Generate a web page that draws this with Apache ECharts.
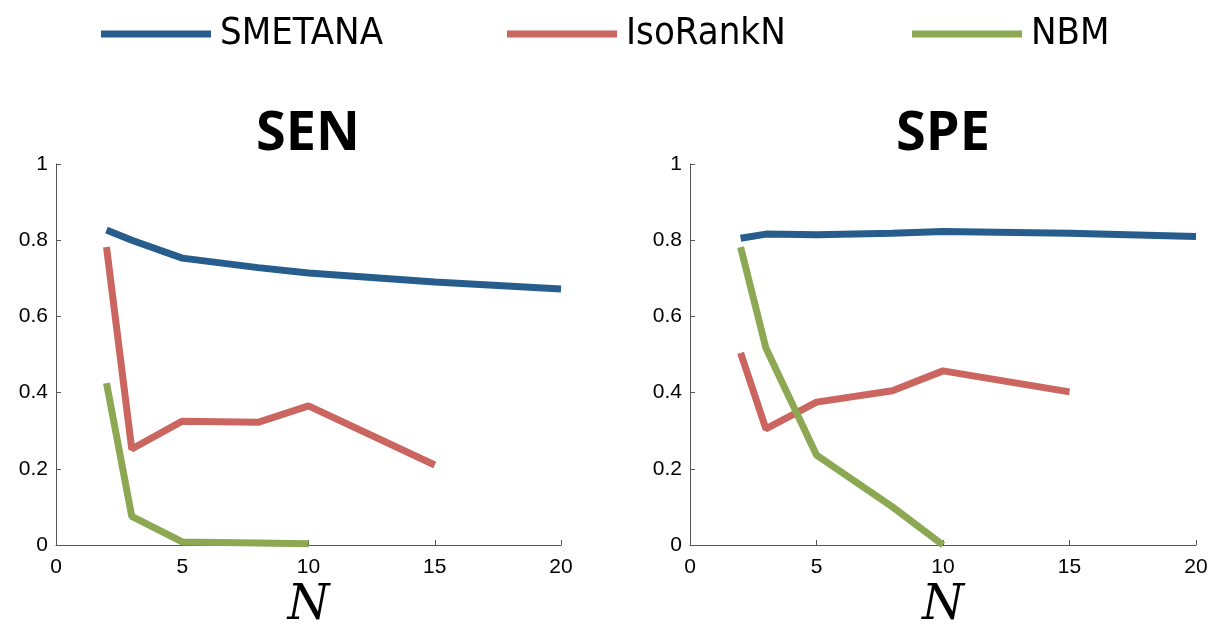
<!DOCTYPE html>
<html>
<head>
<meta charset="utf-8">
<script src="https://cdn.jsdelivr.net/npm/echarts@6/dist/echarts.min.js"></script>
<style>html,body{margin:0;padding:0;background:#fff;}#chart{width:1217px;height:625px;}</style>
</head>
<body>
<div id="chart"></div>
<script>
var seriesNames = ['SMETANA', 'IsoRankN', 'NBM'];
var panelTitles = ['SEN', 'SPE'];
var xLabelName = 'N';

// SEN panel
var senSMETANA = [[2, 0.827], [3, 0.800], [5, 0.753], [8, 0.728], [10, 0.714], [15, 0.690], [20, 0.672]];
var senIsoRankN = [[2, 0.782], [3, 0.252], [5, 0.325], [8, 0.322], [10, 0.365], [15, 0.210]];
var senNBM = [[2, 0.425], [3, 0.075], [5, 0.008], [8, 0.005], [10, 0.003]];

// SPE panel
var speSMETANA = [[2, 0.805], [3, 0.816], [5, 0.814], [8, 0.818], [10, 0.823], [15, 0.818], [20, 0.810]];
var speIsoRankN = [[2, 0.504], [3, 0.305], [5, 0.375], [8, 0.405], [10, 0.457], [15, 0.402]];
var speNBM = [[2, 0.782], [3, 0.517], [5, 0.236], [8, 0.100], [10, 0.0]];

var colors = ['#265D8C', '#CB655F', '#8CA853'];

var chart = echarts.init(document.getElementById('chart'));

function xAxisDef(gi) {
  return {
    gridIndex: gi, type: 'value', min: 0, max: 20, interval: 5,
    name: xLabelName, nameLocation: 'middle', nameGap: 38,
    nameTextStyle: {fontFamily: 'DejaVu Serif', fontStyle: 'italic', fontSize: 48, color: '#000'},
    axisLine: {show: true, onZero: false, lineStyle: {color: '#555', width: 1}},
    axisTick: {show: true, inside: true, length: 5, lineStyle: {color: '#555'}},
    axisLabel: {fontFamily: 'Liberation Sans', fontSize: 21, color: '#000', margin: 12},
    splitLine: {show: false}
  };
}
function yAxisDef(gi) {
  return {
    gridIndex: gi, type: 'value', min: 0, max: 1, interval: 0.2,
    axisLine: {show: true, lineStyle: {color: '#555', width: 1}},
    axisTick: {show: true, inside: true, length: 5, lineStyle: {color: '#555'}},
    axisLabel: {fontFamily: 'Liberation Sans', fontSize: 21, color: '#000', margin: 8},
    splitLine: {show: false}
  };
}
function lineSeries(name, data, idx) {
  return {
    name: name, type: 'line', xAxisIndex: idx, yAxisIndex: idx, data: data,
    showSymbol: false, symbol: 'none', silent: true, animation: false,
    color: colors[seriesNames.indexOf(name)],
    lineStyle: {width: 7, cap: 'butt', color: colors[seriesNames.indexOf(name)]}
  };
}
function legendDef(name, left) {
  return {
    data: [name], left: left, top: 10, itemWidth: 110, itemHeight: 7, icon: 'rect',
    selectedMode: false,
    textStyle: {fontFamily: 'DejaVu Sans Condensed', fontSize: 38, color: '#000', padding: [0, 0, 0, 4]}
  };
}

chart.setOption({
  animation: false,
  backgroundColor: '#fff',
  legend: [legendDef(seriesNames[0], 96), legendDef(seriesNames[1], 502), legendDef(seriesNames[2], 907)],
  grid: [
    {left: 56, top: 164, width: 505, height: 381, outerBoundsMode: 'none', containLabel: false},
    {left: 690, top: 164, width: 506, height: 381, outerBoundsMode: 'none', containLabel: false}
  ],
  xAxis: [xAxisDef(0), xAxisDef(1)],
  yAxis: [yAxisDef(0), yAxisDef(1)],
  graphic: [
    {type: 'text', x: 308, y: 108, style: {text: panelTitles[0], textAlign: 'center', textVerticalAlign: 'top', font: 'bold 54px "Open Sans"', fill: '#000'}},
    {type: 'text', x: 943, y: 108, style: {text: panelTitles[1], textAlign: 'center', textVerticalAlign: 'top', font: 'bold 54px "Open Sans"', fill: '#000'}}
  ],
  series: [
    lineSeries('SMETANA', senSMETANA, 0),
    lineSeries('IsoRankN', senIsoRankN, 0),
    lineSeries('NBM', senNBM, 0),
    lineSeries('SMETANA', speSMETANA, 1),
    lineSeries('IsoRankN', speIsoRankN, 1),
    lineSeries('NBM', speNBM, 1)
  ]
});
</script>
</body>
</html>
